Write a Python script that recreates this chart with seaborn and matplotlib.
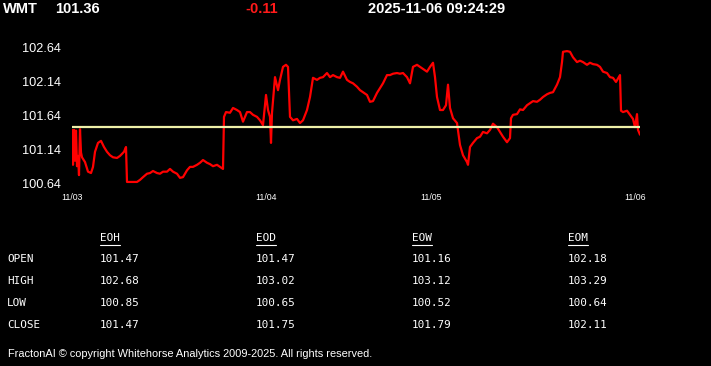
import matplotlib
matplotlib.use("Agg")
import matplotlib.pyplot as plt
import seaborn as sns
import pandas as pd
from matplotlib.lines import Line2D

# ---------------- data ----------------
symbol = "WMT"
last_price = "101.36"
change = "-0.11"
timestamp = "2025-11-06 09:24:29"
ref_level = 101.47  # open / reference line

bar_index = [0, 1, 2, 3, 4, 5, 6, 7, 8, 9, 10, 13, 16, 19, 21, 23, 26, 29, 32, 35,
             38, 41, 45, 48, 52, 54, 55, 58, 62, 65, 68, 71, 75, 78, 81, 85, 88, 91, 95, 98,
             101, 105, 108, 111, 115, 118, 121, 125, 128, 131, 135, 138, 141, 145, 148, 151, 152, 154, 158, 161,
             165, 168, 171, 175, 178, 181, 185, 188, 191, 194, 196, 198, 199, 200, 203, 206, 208, 211, 214, 216,
             218, 221, 225, 228, 231, 235, 238, 241, 245, 248, 251, 255, 258, 261, 265, 268, 271, 275, 278, 281,
             285, 288, 291, 295, 298, 301, 305, 308, 311, 315, 318, 321, 325, 328, 331, 335, 338, 341, 345, 348,
             351, 355, 358, 361, 363, 365, 368, 371, 374, 376, 378, 381, 385, 388, 391, 395, 396, 398, 401, 405,
             408, 411, 415, 418, 421, 425, 428, 431, 435, 438, 439, 441, 445, 448, 451, 455, 458, 461, 465, 468,
             471, 475, 478, 481, 485, 488, 490, 491, 495, 498, 501, 505, 508, 511, 515, 518, 521, 525, 528, 531,
             535, 538, 541, 544, 548, 549, 551, 555, 558, 561, 563, 565, 566, 568]
prices = [101.43, 100.92, 101.43, 100.98, 101.42, 100.90, 101.05, 100.77, 101.44, 101.10, 101.03, 100.96, 100.82, 100.80, 100.89, 101.11, 101.24, 101.27, 101.18, 101.11,
          101.06, 101.03, 101.02, 101.05, 101.11, 101.18, 100.67, 100.67, 100.67, 100.67, 100.70, 100.74, 100.79, 100.80, 100.83, 100.80, 100.79, 100.82, 100.82, 100.86,
          100.82, 100.79, 100.73, 100.74, 100.84, 100.89, 100.89, 100.92, 100.95, 100.99, 100.95, 100.93, 100.90, 100.92, 100.89, 100.86, 101.62, 101.69, 101.68, 101.75,
          101.72, 101.69, 101.55, 101.69, 101.69, 101.65, 101.62, 101.57, 101.50, 101.94, 101.72, 101.62, 101.24, 101.68, 102.20, 102.01, 102.16, 102.35, 102.38, 102.35,
          101.62, 101.57, 101.59, 101.53, 101.57, 101.72, 101.91, 102.19, 102.16, 102.19, 102.20, 102.26, 102.20, 102.23, 102.20, 102.19, 102.28, 102.16, 102.13, 102.11,
          102.06, 102.01, 101.98, 101.94, 101.84, 101.85, 101.97, 102.04, 102.11, 102.23, 102.23, 102.25, 102.26, 102.25, 102.26, 102.20, 102.11, 102.35, 102.38, 102.35,
          102.32, 102.28, 102.35, 102.41, 102.20, 101.91, 101.72, 101.72, 101.79, 102.09, 101.75, 101.60, 101.53, 101.21, 101.06, 100.96, 100.92, 101.18, 101.24, 101.31,
          101.33, 101.40, 101.38, 101.43, 101.52, 101.47, 101.40, 101.33, 101.25, 101.31, 101.60, 101.65, 101.66, 101.73, 101.72, 101.79, 101.82, 101.85, 101.84, 101.87,
          101.91, 101.95, 101.97, 101.98, 102.09, 102.20, 102.42, 102.57, 102.58, 102.57, 102.49, 102.42, 102.44, 102.42, 102.38, 102.41, 102.39, 102.38, 102.35, 102.28,
          102.26, 102.20, 102.19, 102.13, 102.23, 101.71, 101.69, 101.71, 101.65, 101.59, 101.47, 101.66, 101.43, 101.36]

date_ticks = [0, 194, 359, 563]
date_labels = ["11/03", "11/04", "11/05", "11/06"]
y_ticks = [100.64, 101.14, 101.64, 102.14, 102.64]

col_headers = ["EOH", "EOD", "EOW", "EOM"]
row_labels = ["OPEN", "HIGH", "LOW", "CLOSE"]
eoh = ["101.47", "102.68", "100.85", "101.47"]
eod = ["101.47", "103.02", "100.65", "101.75"]
eow = ["101.16", "103.12", "100.52", "101.79"]
eom = ["102.18", "103.29", "100.64", "102.11"]

footer = "FractonAI \u00a9 copyright Whitehorse Analytics 2009-2025. All rights reserved."

# ---------------- figure ----------------
sns.set_style("dark")
plt.rcParams['font.family'] = ['Liberation Sans', 'DejaVu Sans']

W, H = 711, 366
fig = plt.figure(figsize=(W / 100, H / 100), dpi=100, facecolor="black")
ax = fig.add_axes([72 / W, 1 - 184 / H, (640 - 72) / W, (184 - 38) / H])
ax.set_facecolor("black")

df = pd.DataFrame({"idx": bar_index, "price": prices})
sns.lineplot(data=df, x="idx", y="price", ax=ax, color="#ff0000", linewidth=1.6,
             estimator=None, sort=False)
ax.axhline(ref_level, color="#eef0a8", linewidth=1.6, xmin=0, xmax=1)

ax.set_xlim(0, 568)
ax.set_ylim(100.64, 102.64 + 9 / 68.5)
ax.set_yticks(y_ticks)
ax.set_yticklabels([f"{v:.2f}" for v in y_ticks])
ax.set_xticks(date_ticks)
ax.set_xticklabels(date_labels)
ax.tick_params(axis="y", length=0, pad=8, labelsize=9.2, labelcolor="white")
ax.tick_params(axis="x", length=3.5, width=0.8, color="white", pad=3,
               labelsize=6.3, labelcolor="white", direction="out")
ax.set_xlabel("")
ax.set_ylabel("")
ax.grid(False)
for s in ax.spines.values():
    s.set_visible(False)

# ---------------- header ----------------
hy = 1 - 9 / H
fig.text(3 / W, hy, symbol, color="white", fontsize=10.5, fontweight="bold", va="center", ha="left")
fig.text(55 / W, hy, last_price, color="white", fontsize=10.5, fontweight="bold", va="center", ha="left")
fig.text(262 / W, hy, change, color="#ff1a1a", fontsize=10.5, fontweight="bold", va="center", ha="center")
fig.text(368 / W, hy, timestamp, color="white", fontsize=10.5, fontweight="bold", va="center", ha="left")

# ---------------- table ----------------
mono = ['DejaVu Sans Mono']
col_x = [100, 256, 412, 568]
row_y = [259, 281, 303, 325]
header_y = 238
columns = [eoh, eod, eow, eom]
for lab, ry in zip(row_labels, row_y):
    fig.text(7 / W, 1 - ry / H, lab, color="white", fontsize=7.9, family=mono, va="center", ha="left")
fig.canvas.draw()
renderer = fig.canvas.get_renderer()
for hdr, cx, vals in zip(col_headers, col_x, columns):
    t = fig.text(cx / W, 1 - header_y / H, hdr, color="white", fontsize=7.9, family=mono,
                 va="center", ha="left")
    bb = t.get_window_extent(renderer=renderer)
    fig.add_artist(Line2D([bb.x0 / W, bb.x1 / W], [(H - 244.5) / H, (H - 244.5) / H],
                          color="white", linewidth=0.8, transform=fig.transFigure))
    for v, ry in zip(vals, row_y):
        fig.text(cx / W, 1 - ry / H, v, color="white", fontsize=7.9, family=mono, va="center", ha="left")

# ---------------- footer ----------------
fig.text(8 / W, 1 - 354 / H, footer, color="white", fontsize=7.9, va="center", ha="left")

fig.savefig("out.png", dpi=100, facecolor="black")
